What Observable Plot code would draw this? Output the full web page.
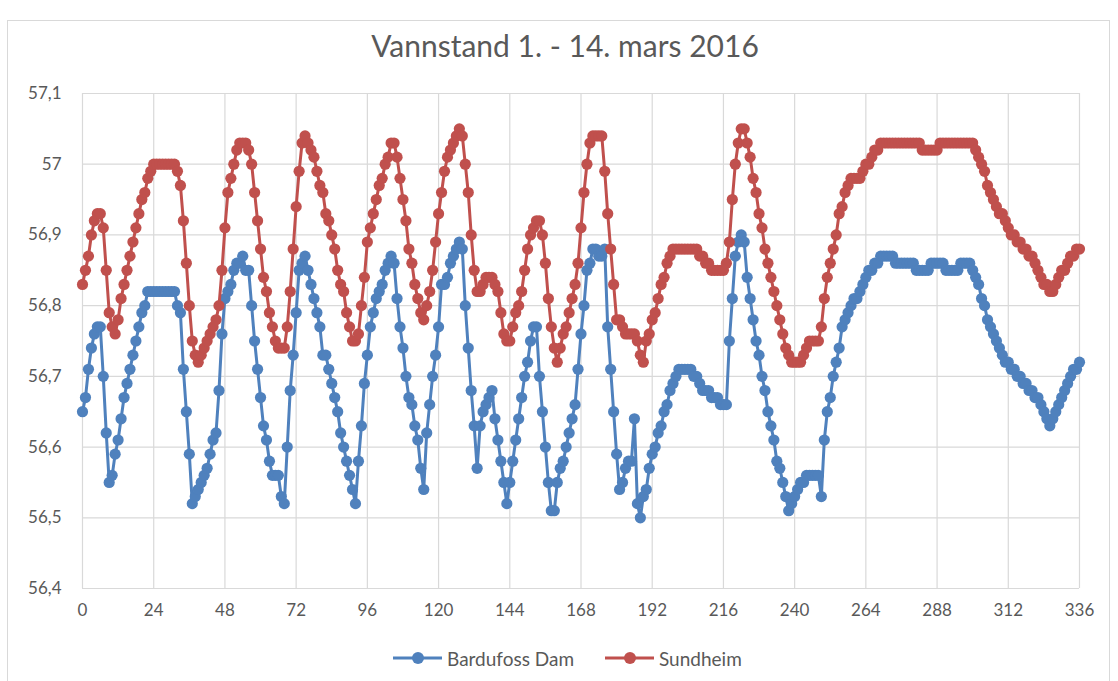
<!DOCTYPE html>
<html>
<head>
<meta charset="utf-8">
<script src="https://cdn.jsdelivr.net/npm/d3@7"></script>
<script src="https://cdn.jsdelivr.net/npm/@observablehq/plot@0.6"></script>
<style>
  html, body { margin: 0; padding: 0; background: #ffffff; }
  body { width: 1118px; height: 681px; position: relative; overflow: hidden; font-family: Lato, "Open Sans", sans-serif; }
  #frame { position: absolute; left: 7px; top: 20px; width: 1103px; height: 700px; border: 1px solid #d9d9d9; box-sizing: border-box; }
  #title { position: absolute; left: 0; width: 1130px; top: 27px; text-align: center; font-size: 30px; color: #595959; white-space: nowrap; }
  #chart { position: absolute; left: 0; top: 70px; }
  .leg { position: absolute; top: 646px; height: 24px; display: flex; align-items: center; font-size: 19px; color: #595959; white-space: nowrap; }
  .leg svg { margin-right: 5px; }
</style>
</head>
<body>
<div id="frame"></div>
<div id="title">Vannstand 1. - 14. mars 2016</div>
<div id="chart"></div>
<div class="leg" id="leg1"></div>
<div class="leg" id="leg2"></div>
<script>
// Series names and colours
const seriesNames = ["Bardufoss Dam", "Sundheim"];
const seriesColors = ["#4F81BD", "#C0504D"];

// Tick values
const xTicks = [0, 24, 48, 72, 96, 120, 144, 168, 192, 216, 240, 264, 288, 312, 336];
const yTicks = [56.4, 56.5, 56.6, 56.7, 56.8, 56.9, 57.0, 57.1];

// Hourly water level, hour 0 .. 336 — Bardufoss Dam
const bardufoss = [
  56.65,56.67,56.71,56.74,56.76,56.77,56.77,56.70,56.62,56.55,
  56.56,56.59,56.61,56.64,56.67,56.69,56.71,56.73,56.75,56.77,
  56.79,56.80,56.82,56.82,56.82,56.82,56.82,56.82,56.82,56.82,
  56.82,56.82,56.80,56.79,56.71,56.65,56.59,56.52,56.53,56.54,
  56.55,56.56,56.57,56.59,56.61,56.62,56.68,56.76,56.81,56.82,
  56.83,56.85,56.86,56.86,56.87,56.85,56.85,56.80,56.75,56.71,
  56.67,56.63,56.61,56.58,56.56,56.56,56.56,56.53,56.52,56.60,
  56.68,56.73,56.79,56.85,56.86,56.87,56.85,56.83,56.81,56.79,
  56.77,56.73,56.73,56.71,56.69,56.67,56.65,56.62,56.60,56.58,
  56.56,56.54,56.52,56.58,56.63,56.69,56.73,56.77,56.79,56.81,
  56.82,56.83,56.85,56.86,56.87,56.86,56.81,56.77,56.74,56.70,
  56.67,56.66,56.63,56.61,56.57,56.54,56.62,56.66,56.70,56.73,
  56.77,56.83,56.83,56.84,56.86,56.87,56.88,56.89,56.88,56.80,
  56.74,56.68,56.63,56.57,56.63,56.65,56.66,56.67,56.68,56.64,
  56.61,56.58,56.55,56.52,56.55,56.58,56.61,56.64,56.67,56.70,
  56.72,56.75,56.77,56.77,56.70,56.65,56.60,56.55,56.51,56.51,
  56.55,56.57,56.58,56.60,56.62,56.64,56.66,56.71,56.76,56.80,
  56.85,56.86,56.88,56.88,56.87,56.87,56.88,56.77,56.71,56.65,
  56.59,56.54,56.55,56.57,56.58,56.58,56.64,56.52,56.50,56.53,
  56.54,56.57,56.59,56.60,56.62,56.63,56.65,56.66,56.68,56.69,
  56.70,56.71,56.71,56.71,56.71,56.71,56.70,56.70,56.69,56.68,
  56.68,56.68,56.67,56.67,56.67,56.66,56.66,56.66,56.75,56.81,
  56.87,56.89,56.90,56.89,56.84,56.81,56.78,56.75,56.73,56.70,
  56.68,56.65,56.63,56.61,56.58,56.57,56.55,56.53,56.51,56.52,
  56.53,56.54,56.55,56.55,56.56,56.56,56.56,56.56,56.56,56.53,
  56.61,56.65,56.67,56.70,56.72,56.74,56.77,56.78,56.79,56.80,
  56.81,56.81,56.82,56.83,56.84,56.85,56.85,56.86,56.86,56.87,
  56.87,56.87,56.87,56.87,56.86,56.86,56.86,56.86,56.86,56.86,
  56.86,56.85,56.85,56.85,56.85,56.85,56.86,56.86,56.86,56.86,
  56.86,56.85,56.85,56.85,56.85,56.85,56.86,56.86,56.86,56.86,
  56.85,56.84,56.83,56.81,56.80,56.78,56.77,56.76,56.75,56.74,
  56.73,56.72,56.72,56.71,56.71,56.70,56.70,56.69,56.69,56.68,
  56.68,56.67,56.67,56.66,56.65,56.64,56.63,56.64,56.65,56.66,
  56.67,56.68,56.69,56.70,56.71,56.71,56.72
];

// Hourly water level, hour 0 .. 336 — Sundheim
const sundheim = [
  56.83,56.85,56.87,56.90,56.92,56.93,56.93,56.91,56.85,56.79,
  56.77,56.76,56.78,56.81,56.83,56.85,56.87,56.89,56.91,56.93,
  56.95,56.96,56.98,56.99,57.00,57.00,57.00,57.00,57.00,57.00,
  57.00,57.00,56.99,56.97,56.92,56.86,56.80,56.75,56.73,56.72,
  56.73,56.74,56.75,56.76,56.77,56.78,56.80,56.85,56.91,56.96,
  56.98,57.00,57.02,57.03,57.03,57.03,57.02,57.00,56.96,56.92,
  56.88,56.84,56.82,56.79,56.77,56.75,56.74,56.74,56.74,56.77,
  56.82,56.88,56.94,56.99,57.03,57.04,57.03,57.02,57.01,56.99,
  56.97,56.96,56.93,56.92,56.90,56.88,56.85,56.83,56.82,56.79,
  56.77,56.75,56.75,56.76,56.80,56.84,56.89,56.91,56.93,56.95,
  56.97,56.98,57.00,57.01,57.03,57.03,57.01,56.98,56.95,56.92,
  56.88,56.86,56.83,56.81,56.79,56.78,56.80,56.82,56.85,56.89,
  56.93,56.96,56.99,57.01,57.02,57.03,57.04,57.05,57.04,57.00,
  56.96,56.90,56.85,56.82,56.82,56.83,56.84,56.84,56.84,56.83,
  56.82,56.79,56.76,56.75,56.75,56.77,56.79,56.80,56.82,56.85,
  56.88,56.90,56.91,56.92,56.92,56.90,56.86,56.81,56.77,56.74,
  56.72,56.74,56.76,56.77,56.79,56.81,56.83,56.86,56.91,56.96,
  57.00,57.03,57.04,57.04,57.04,57.04,56.99,56.93,56.88,56.83,
  56.78,56.78,56.77,56.76,56.76,56.76,56.76,56.75,56.73,56.72,
  56.75,56.76,56.78,56.79,56.81,56.83,56.84,56.86,56.87,56.88,
  56.88,56.88,56.88,56.88,56.88,56.88,56.88,56.88,56.87,56.87,
  56.86,56.86,56.85,56.85,56.85,56.85,56.85,56.86,56.89,56.95,
  57.00,57.03,57.05,57.05,57.03,57.01,56.98,56.96,56.93,56.91,
  56.88,56.86,56.84,56.82,56.80,56.78,56.76,56.74,56.73,56.72,
  56.72,56.72,56.72,56.73,56.74,56.75,56.75,56.75,56.75,56.77,
  56.81,56.84,56.86,56.88,56.90,56.93,56.94,56.96,56.97,56.98,
  56.98,56.98,56.98,56.99,57.00,57.00,57.01,57.02,57.02,57.03,
  57.03,57.03,57.03,57.03,57.03,57.03,57.03,57.03,57.03,57.03,
  57.03,57.03,57.03,57.02,57.02,57.02,57.02,57.02,57.02,57.03,
  57.03,57.03,57.03,57.03,57.03,57.03,57.03,57.03,57.03,57.03,
  57.03,57.02,57.01,57.00,56.99,56.97,56.96,56.95,56.94,56.93,
  56.93,56.92,56.91,56.90,56.90,56.89,56.89,56.88,56.88,56.87,
  56.87,56.86,56.85,56.84,56.83,56.83,56.82,56.82,56.83,56.84,
  56.85,56.85,56.86,56.87,56.87,56.88,56.88
];

const toRows = (arr, name) => arr.map((v, i) => ({ hour: i, level: v, series: name }));
const rowsB = toRows(bardufoss, seriesNames[0]);
const rowsS = toRows(sundheim, seriesNames[1]);

const fmt = d => String(Math.round(d * 10) / 10).replace(".", ",");
const grid = "#d9d9d9";
const txt = "#595959";

const chart = Plot.plot({
  width: 1118,
  height: 560,
  marginLeft: 82,
  marginRight: 39,
  marginTop: 23,
  marginBottom: 42,
  x: { domain: [0, 336], label: null },
  y: { domain: [56.4, 57.1], label: null },
  style: { fontFamily: "Lato, 'Open Sans', sans-serif", fontSize: "17px", color: txt, background: "transparent", overflow: "visible" },
  marks: [
    Plot.gridX(xTicks, { stroke: grid, strokeOpacity: 1, strokeWidth: 1.2 }),
    Plot.gridY(yTicks, { stroke: grid, strokeOpacity: 1, strokeWidth: 1.2 }),
    Plot.axisX(xTicks, { tickSize: 0, tickPadding: 15, fill: txt, label: null }),
    Plot.axisY(yTicks, { tickSize: 0, tickPadding: 21, fill: txt, label: null, tickFormat: fmt }),
    Plot.line(rowsB, { x: "hour", y: "level", stroke: seriesColors[0], strokeWidth: 3 }),
    Plot.dot(rowsB, { x: "hour", y: "level", r: 5.6, fill: seriesColors[0], stroke: "none" }),
    Plot.line(rowsS, { x: "hour", y: "level", stroke: seriesColors[1], strokeWidth: 3 }),
    Plot.dot(rowsS, { x: "hour", y: "level", r: 5.6, fill: seriesColors[1], stroke: "none" })
  ]
});
document.getElementById("chart").appendChild(chart);

// Legend
const legendLeft = [393, 605];
["leg1", "leg2"].forEach((id, i) => {
  const el = document.getElementById(id);
  el.style.left = legendLeft[i] + "px";
  el.innerHTML =
    `<svg width="49" height="16"><line x1="0" y1="8" x2="49" y2="8" stroke="${seriesColors[i]}" stroke-width="3"/>` +
    `<circle cx="25" cy="8" r="6" fill="${seriesColors[i]}"/></svg><span>${seriesNames[i]}</span>`;
});
</script>
</body>
</html>
